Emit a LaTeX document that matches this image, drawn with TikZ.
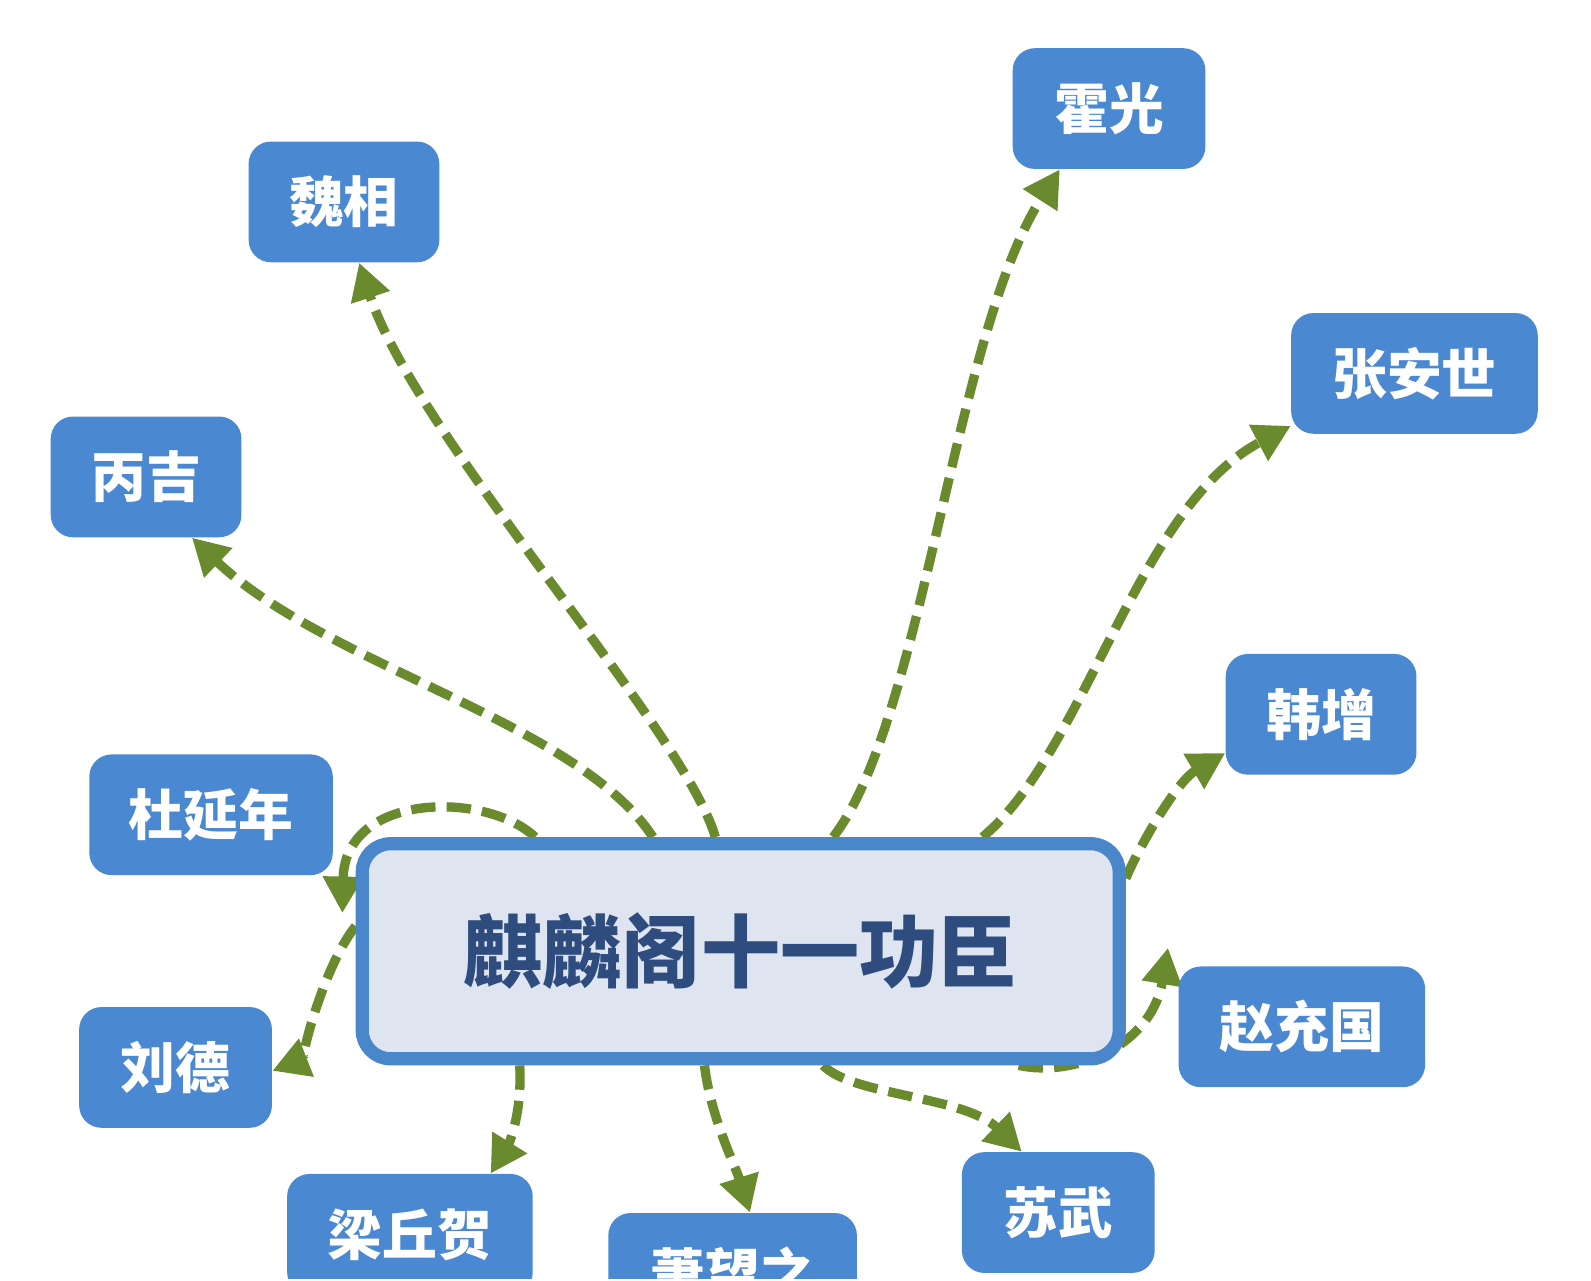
\documentclass[tikz,border=0pt]{standalone}
\usepackage{fontspec}
\setmainfont{Noto Sans CJK SC}
\usetikzlibrary{arrows.meta,calc,backgrounds}
\definecolor{boxblue}{HTML}{4A88D2}
\definecolor{mainfill}{HTML}{DEE5F0}
\definecolor{mainborder}{HTML}{4A86CA}
\definecolor{maintext}{HTML}{2E4D7E}
\definecolor{arrowgreen}{HTML}{6A8A2E}
\begin{document}
\begin{tikzpicture}[x=0.5pt,y=-0.5pt,
  person/.style={rectangle, rounded corners=11pt, fill=boxblue, text=white,
    font=\bfseries\fontsize{27}{30}\selectfont, inner sep=0pt, minimum height=59.5pt},
  hub/.style={rectangle, rounded corners=14pt, draw=mainborder, line width=6.5pt,
    fill=mainfill, text=maintext, font=\bfseries\fontsize{39}{44}\selectfont,
    inner sep=0pt, minimum width=373pt, minimum height=106pt},
  conn/.style={draw=arrowgreen, line width=4.6pt, dash pattern=on 12pt off 5.5pt,
    -{Triangle[length=18pt,width=19pt]}}
]
\useasboundingbox (0,0) rectangle (1568,1262);
\clip (0,0) rectangle (1568,1260);

\node[hub] (main) at (730,937.5) {麒麟阁十一功臣};

\node[person, minimum width=95pt]    (huo)   at (1093,107)  {霍光};
\node[person, minimum width=94pt]    (wei)   at (339,199)   {魏相};
\node[person, minimum width=121.5pt] (zhang) at (1394,368)  {张安世};
\node[person, minimum width=94pt]    (bing)  at (144,470)   {丙吉};
\node[person, minimum width=94pt]    (han)   at (1302,704)  {韩增};
\node[person, minimum width=120pt]   (du)    at (208,803)   {杜延年};
\node[person, minimum width=121.5pt] (zhao)  at (1283,1012) {赵充国};
\node[person, minimum width=95pt]    (liu)   at (173,1052)  {刘德};
\node[person, minimum width=121pt]   (lq)    at (404,1216.5){梁丘贺};
\node[person, minimum width=122.5pt] (xiao)  at (722,1255)  {萧望之};
\node[person, minimum width=95pt]    (su)    at (1043,1195) {苏武};

\begin{pgfonlayer}{background}
\fill[white] (0,0) rectangle (1568,1262);
\draw[conn] ($(main.north west)!0.386!(main.north east)$) .. controls (570,712) and (320,655) .. (bing.-53);
\draw[conn] ($(main.north west)!0.467!(main.north east)$) .. controls (675,720) and (410,430) .. (wei.-76);
\draw[conn] ($(main.north west)!0.620!(main.north east)$) .. controls (910,710) and (940,330) .. (huo.231);
\draw[conn] ($(main.north west)!0.814!(main.north east)$) .. controls (1070,740) and (1120,500) .. (zhang.203);
\draw[conn] ($(main.north east)!0.18!(main.south east)$) .. controls (1125,830) and (1160,770) .. (han.202);
\draw[conn] ($(main.south west)!0.861!(main.south east)$) .. controls (1060,1062) and (1135,1030) .. ($(zhao.north west)+(-10,-18)$);
\draw[conn] ($(main.south west)!0.607!(main.south east)$) .. controls (840,1080) and (950,1080) .. (su.121);
\draw[conn] ($(main.south west)!0.453!(main.south east)$) .. controls (700,1100) and (725,1150) .. (xiao.74);
\draw[conn] ($(main.south west)!0.213!(main.south east)$) .. controls (515,1100) and (500,1130) .. (lq.37);
\draw[conn] ($(main.north west)!0.39!(main.south west)$) .. controls (320,950) and (295,1045) .. (liu.-2);
\draw[conn] ($(main.north west)!0.233!(main.north east)$) .. controls (480,780) and (340,780) .. ($(du.south east)+(9,37)$);
\end{pgfonlayer}
\end{tikzpicture}
\end{document}
